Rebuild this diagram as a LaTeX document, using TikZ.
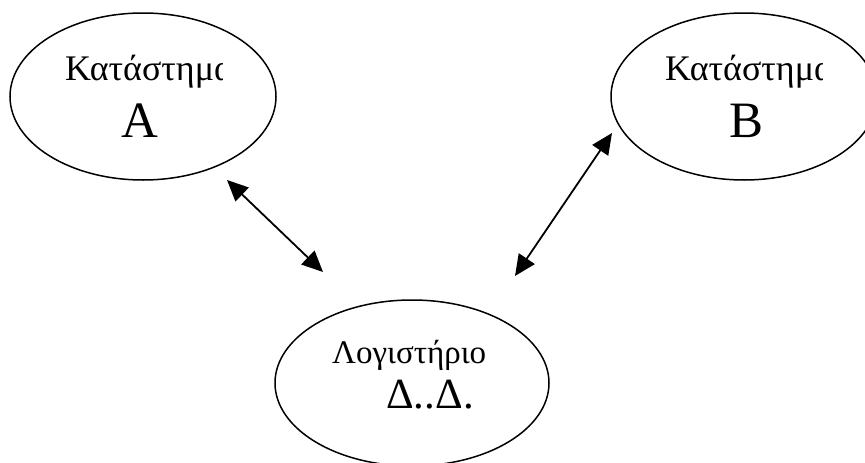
\documentclass[tikz,border=0pt]{standalone}
\usepackage{fontspec}
\setmainfont{Liberation Serif}
\usetikzlibrary{shapes.geometric,arrows.meta}
\tikzset{
  oval/.style={draw, ellipse, line width=1.5pt, minimum width=266pt, minimum height=167pt, inner sep=0pt},
  lbl/.style={inner sep=0pt, font=\fontsize{36}{40}\selectfont},
  sml/.style={inner sep=0pt, font=\fontsize{33}{38}\selectfont},
  big/.style={inner sep=0pt, font=\fontsize{51}{56}\selectfont},
  mid/.style={inner sep=0pt, font=\fontsize{43}{48}\selectfont},
  link/.style={line width=1.8pt, {Triangle[length=21pt,width=19pt]}-{Triangle[length=21pt,width=19pt]}}
}
\begin{document}
\begin{tikzpicture}[x=1pt,y=-1pt]
\useasboundingbox (0,0) rectangle (865,463);
\begin{scope}
\clip (0,0) rectangle (865,463);
\node[oval] (ka) at (143,96.5) {};
\node[oval] (kb) at (744,96.5) {};
\node[oval, minimum width=274pt, minimum height=166pt] (log) at (412,383) {};
\end{scope}
\begin{scope}
\clip (60,40) rectangle (222,100);
\node[lbl, anchor=base west] (ta) at (65,80) {Κατάστημα};
\end{scope}
\begin{scope}
\clip (660,40) rectangle (822,100);
\node[lbl, anchor=base west] (tb) at (665,80) {Κατάστημα};
\end{scope}
\node[big, anchor=base] (la) at (139.5,137) {A};
\node[big, anchor=base] (lb) at (746.5,137) {B};
\node[sml, anchor=base west] (tl) at (332,363) {Λογιστήριο};
\node[mid, anchor=base west] (dd) at (386,408) {Δ..Δ.};
\coordinate (a1) at (227,180);
\coordinate (a2) at (323,272);
\coordinate (b1) at (612,133);
\coordinate (b2) at (515,276);
\draw[link] (a1) -- (a2);
\draw[link] (b1) -- (b2);
\end{tikzpicture}
\end{document}
